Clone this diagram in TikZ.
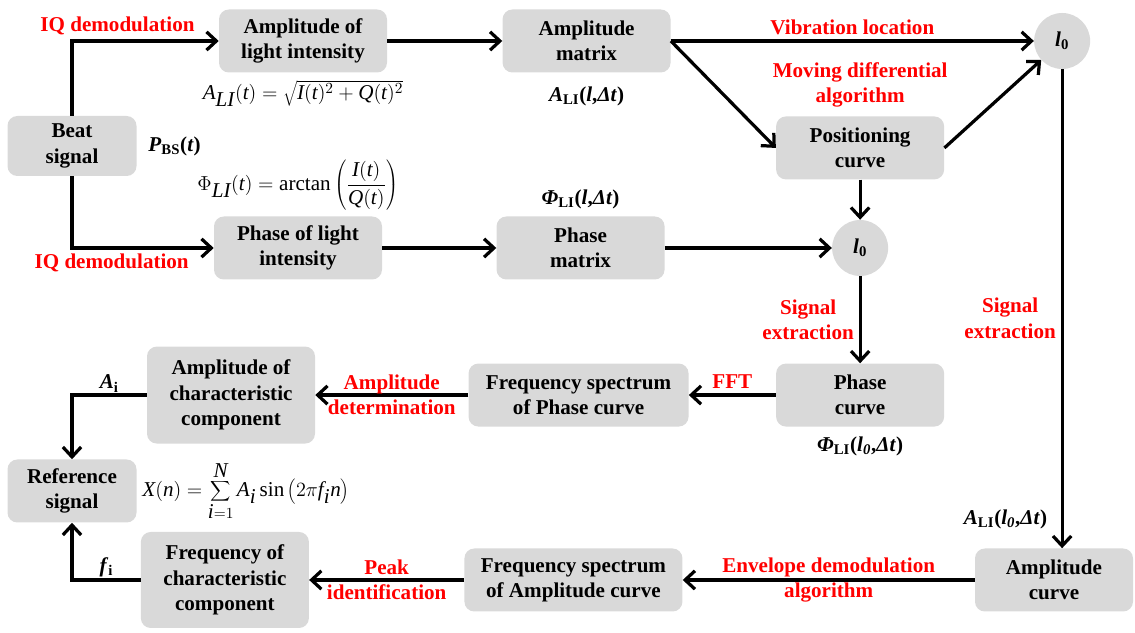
\documentclass[tikz,border=0pt]{standalone}
\usepackage{fontspec}
\setmainfont{Liberation Serif}
\usepackage{tikz}
\usetikzlibrary{arrows.meta, positioning, calc}
\definecolor{boxgray}{HTML}{D9D9D9}
\definecolor{labelred}{HTML}{FF0000}
\newcommand{\tv}[1]{\textit{#1}}
\tikzset{
    box/.style={rectangle, fill=boxgray, rounded corners=7pt, minimum width=4.2cm, minimum height=1.575cm, align=center, inner sep=2pt, font=\fontsize{15}{18}\selectfont\bfseries},
    spot/.style={circle, fill=boxgray, minimum size=1.4cm, inner sep=0pt, font=\fontsize{15}{18}\selectfont},
    arrow/.style={-{Straight Barb[length=7pt,width=13pt]}, line width=2.3pt},
    redlabel/.style={text=labelred, align=center, font=\fontsize{15}{18}\selectfont\bfseries},
    formula/.style={inner sep=1pt, align=center, font=\fontsize{15}{18}\selectfont}
}

\begin{document}
\begin{tikzpicture}
    \useasboundingbox (0,0) rectangle (28.375,15.825);
    \node [box, minimum width=3.225cm, minimum height=1.5cm] (beat) at (1.8,12.175) {Beat\\signal};
    \node [box] (amp) at (7.575,14.8) {Amplitude of\\light intensity};
    \node [box] (ampmat) [right=2.875cm of amp] {Amplitude\\matrix};
    \node [spot] (l0top) [right=9.075cm of ampmat] {\textbf{\textit{l}}\textsubscript{\textbf{0}}};
    \node [box] (phase) at (7.45,9.625) {Phase of light\\intensity};
    \node [box] (phmat) [right=2.85cm of phase] {Phase\\matrix};
    \node [spot] (l0mid) [right=4.175cm of phmat] {\textbf{\textit{l}}\textsubscript{\textbf{0}}};
    \node [box] (pos) [above=1.0cm of l0mid] {Positioning\\curve};
    \node [box] (phcurve) [below=2.175cm of l0mid] {Phase\\curve};
    \node [box, minimum width=5.5cm] (fsphase) [left=2.175cm of phcurve] {Frequency spectrum\\of Phase curve};
    \node [box, minimum height=2.425cm] (ampchar) [left=3.825cm of fsphase] {Amplitude of\\characteristic\\component};
    \node [box, minimum width=3.225cm] (ref) at (1.8,3.55) {Reference\\signal};
    \node [box, minimum width=3.95cm] (ampcurve) at (26.35,1.325) {Amplitude\\curve};
    \node [box, minimum width=5.45cm] (fsamp) [left=7.3cm of ampcurve] {Frequency spectrum\\of Amplitude curve};
    \node [box, minimum height=2.4cm] (freqchar) [left=3.875cm of fsamp] {Frequency of\\characteristic\\component};

    \node [formula, right=0.25cm of beat] (pbs) {\textbf{\textit{P}\textsubscript{BS}(\textit{t})}};
    \node [formula, below=0.15cm of amp] (ampeq) {$\tv{A}_{\tv{LI}}(\tv{t})=\sqrt{\tv{I}(\tv{t})^2+\tv{Q}(\tv{t})^2}$};
    \node [formula, above=0.1cm of phase] (phaseeq) {$\displaystyle \Phi_{\tv{LI}}(\tv{t})=\mathrm{arctan}\left(\frac{\tv{I}(\tv{t})}{\tv{Q}(\tv{t})}\right)$};
    \node [formula, below=0.3cm of ampmat] (ampmatvar) {\textbf{\textit{A}\textsubscript{LI}(\textit{l},\textit{Δt})}};
    \node [formula, above=0.15cm of phmat] (phmatvar) {\textbf{\textit{Φ}\textsubscript{LI}(\textit{l},\textit{Δt})}};
    \node [formula, below=0.2cm of phcurve] (phcurvevar) {\textbf{\textit{Φ}\textsubscript{LI}(\textit{l\textsubscript{0}},\textit{Δt})}};
    \node [formula, right=0.1cm of ref] (refeq) {$\displaystyle \tv{X}(\tv{n})=\sum_{\tv{i}=1}^{\tv{N}}\tv{A}_{\tv{i}}\,\mathrm{sin}\left(2\pi \tv{f}_{\tv{i}}\tv{n}\right)$};
    \node [redlabel, above=0.1cm of pos] (movlabel) {Moving differential\\algorithm};

    \draw [arrow] (beat.north) |- node [redlabel, above, pos=0.655] {IQ demodulation} (amp.west);
    \draw [arrow] (beat.south) |- node [redlabel, below, pos=0.64] {IQ demodulation} (phase.west);
    \draw [arrow] (amp) -- (ampmat);
    \draw [arrow] (ampmat.east) -- node [redlabel, above] {Vibration location} (l0top);
    \draw [arrow] (ampmat.east) -- (pos.west);
    \draw [arrow] (pos.east) -- (l0top);
    \draw [arrow] (pos) -- (l0mid);
    \draw [arrow] (phase) -- (phmat);
    \draw [arrow] (phmat) -- (l0mid);
    \draw [arrow] (l0mid) -- node [redlabel, left] {Signal\\extraction} (phcurve);
    \draw [arrow] (l0top) -- node [redlabel, left, pos=0.52] {Signal\\extraction} node [formula, left=0.3cm, pos=0.94] {\textbf{\textit{A}\textsubscript{LI}(\textit{l\textsubscript{0}},\textit{Δt})}} (l0top |- ampcurve.north);
    \draw [arrow] (phcurve) -- node [redlabel, above] {FFT} (fsphase);
    \draw [arrow] (fsphase) -- node [redlabel] {Amplitude\\determination} (ampchar);
    \draw [arrow] (ampchar.west) -| node [formula, above, pos=0.25] {\textbf{\textit{A}\textsubscript{i}}} (ref.north);
    \draw [arrow] (ampcurve) -- node [redlabel] {Envelope demodulation\\algorithm} (fsamp);
    \draw [arrow] (fsamp) -- node [redlabel] {Peak\\identification} (freqchar);
    \draw [arrow] (freqchar.west) -| node [formula, above, pos=0.25] {\textbf{\textit{f}\textsubscript{i}}} (ref.south);
\end{tikzpicture}
\end{document}
